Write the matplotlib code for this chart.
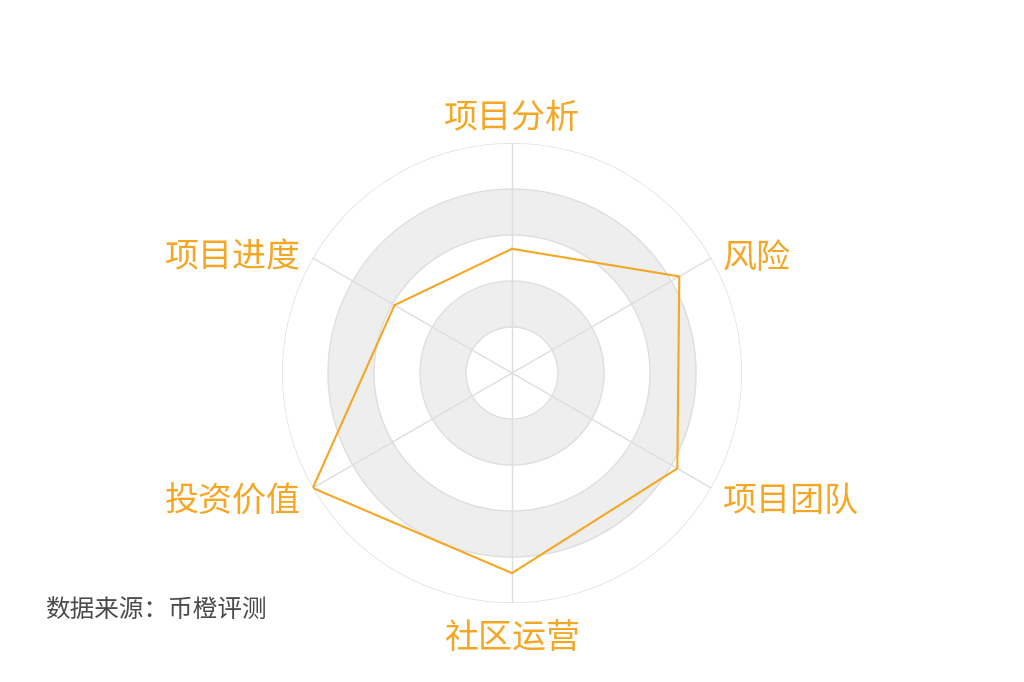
import matplotlib
matplotlib.use('Agg')
import matplotlib.pyplot as plt
import numpy as np

plt.rcParams['font.family'] = ['Noto Sans CJK SC', 'DejaVu Sans']

# данные
indicators = ['项目分析', '风险', '项目团队', '社区运营', '投资价值', '项目进度']
values = [54, 84, 83, 87, 100, 59]
max_value = 100
split_levels = [20, 40, 60, 80, 100]
source = '数据来源：币橙评测'

ORANGE = '#F5A623'
GRID = '#dedede'
BAND = '#eeeeee'

fig = plt.figure(figsize=(10.24, 6.82), dpi=100)
ax = fig.add_axes([0.5 - 0.2246, 0.453 - 0.3372, 0.4492, 0.6745], projection='polar')
ax.set_theta_offset(np.pi / 2)
ax.set_theta_direction(-1)
ax.set_ylim(0, max_value)
ax.axis('off')

# чередующиеся серые кольца
theta = np.linspace(0, 2 * np.pi, 361)
for i in range(len(split_levels)):
    lo = split_levels[i - 1] if i > 0 else 0
    hi = split_levels[i]
    if i % 2 == 1:
        ax.fill_between(theta, lo, hi, color=BAND, lw=0, zorder=1)
    ax.plot(theta, np.full_like(theta, hi), color=GRID, lw=1, zorder=2)

# оси
angles = np.linspace(0, 2 * np.pi, len(indicators), endpoint=False)
for a in angles:
    ax.plot([a, a], [0, max_value], color=GRID, lw=1, zorder=2)

# линия данных
closed_a = np.append(angles, angles[0])
closed_v = np.append(values, values[0])
ax.plot(closed_a, closed_v, color=ORANGE, lw=1.5, zorder=3)

# подписи
for a, name in zip(angles, indicators):
    s = np.sin(a)
    dy = 0
    if abs(s) < 1e-6:
        ha = 'center'
        if np.cos(a) > 0:
            va, r = 'bottom', max_value * 1.03
        else:
            va, r = 'top', max_value * 1.08
    else:
        ha = 'left' if s > 0 else 'right'
        va = 'center'
        r = max_value * 1.06
        dy = -5
    ax.annotate(name, (a, r), xytext=(0, dy), textcoords='offset points',
                ha=ha, va=va, fontsize=24.5, color=ORANGE, zorder=4,
                annotation_clip=False)

fig.text(45 / 1024, 1 - 610 / 682, source, ha='left', va='center',
         fontsize=17.7, color='#4a4a4a')

fig.savefig('out.png', dpi=100)
